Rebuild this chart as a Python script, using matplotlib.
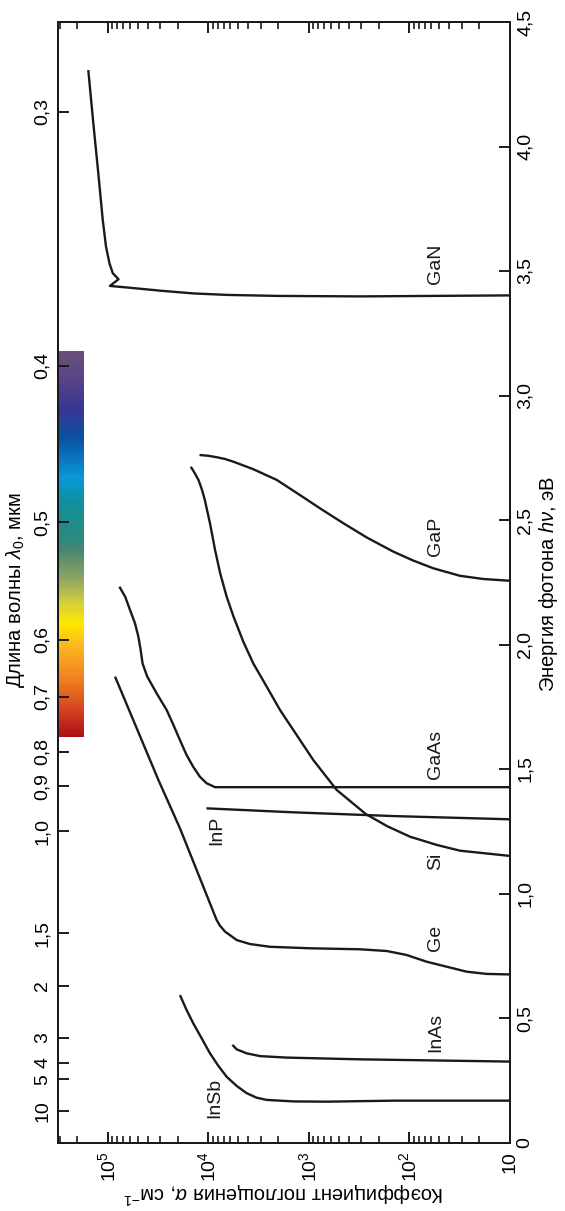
import numpy as np
import matplotlib
matplotlib.use("Agg")
import matplotlib.pyplot as plt
from matplotlib.ticker import FixedLocator, LogLocator, NullFormatter
from matplotlib.colors import LinearSegmentedColormap

plt.rcParams['font.family'] = ['Liberation Sans', 'DejaVu Sans']
plt.rcParams['mathtext.fontset'] = 'custom'
plt.rcParams['mathtext.rm'] = 'Liberation Sans'
plt.rcParams['mathtext.it'] = 'Liberation Sans:italic'

# ---------------- data (photon energy eV, absorption coefficient cm^-1) ----------------
gan_E = [4.307, 4.093, 3.892, 3.705, 3.598, 3.531, 3.491, 3.467, 3.440, 3.434, 3.421, 3.410, 3.404, 3.400, 3.398, 3.402]
gan_a = [1.56e5, 1.39e5, 1.24e5, 1.12e5, 1.04e5, 9.6e4, 8.9e4, 7.8e4, 9.5e4, 6.5e4, 3.0e4, 1.41e4, 6.5e3, 2.08e3, 3.1e2, 10]

gap_E = [2.761, 2.758, 2.752, 2.745, 2.734, 2.704, 2.661, 2.600, 2.547, 2.487, 2.430, 2.373, 2.337, 2.306, 2.276, 2.263, 2.256]
gap_a = [1.22e4, 1.0e4, 8.2e3, 6.8e3, 5.6e3, 3.56e3, 2.08e3, 1.22e3, 773, 452, 265, 144, 91, 57.5, 31.3, 18.3, 10]

si_E = [2.714, 2.690, 2.661, 2.620, 2.580, 2.487, 2.380, 2.286, 2.192, 2.112, 2.011, 1.924, 1.831, 1.737, 1.637, 1.536, 1.416, 1.319, 1.270, 1.228, 1.195, 1.172, 1.151]
si_a = [1.49e4, 1.37e4, 1.25e4, 1.15e4, 1.08e4, 9.6e3, 8.55e3, 7.6e3, 6.55e3, 5.6e3, 4.47e3, 3.56e3, 2.62e3, 1.93e3, 1.32e3, 900, 527, 270, 165, 98, 53, 31.3, 10]

gaas_E = [2.232, 2.192, 2.139, 2.085, 2.031, 1.978, 1.924, 1.871, 1.804, 1.737, 1.677, 1.616, 1.556, 1.509, 1.469, 1.443, 1.427, 1.427]
gaas_a = [7.65e4, 6.7e4, 6.0e4, 5.35e4, 4.95e4, 4.7e4, 4.5e4, 4.04e4, 3.26e4, 2.59e4, 2.22e4, 1.91e4, 1.64e4, 1.41e4, 1.21e4, 1.04e4, 8.55e3, 10]

inp_E = [1.342, 1.326, 1.311, 1.298]
inp_a = [1.04e4, 1.42e3, 144, 10]

ge_E = [1.871, 1.456, 1.262, 0.894, 0.871, 0.847, 0.813, 0.797, 0.786, 0.780, 0.776, 0.769, 0.753, 0.726, 0.706, 0.686, 0.677, 0.675]
ge_a = [8.45e4, 3.13e4, 1.91e4, 8.25e3, 7.65e3, 6.8e3, 5.2e3, 3.84e3, 2.43e3, 970, 309, 167, 106, 67, 42.4, 26.8, 16.9, 10]

inas_E = [0.392, 0.374, 0.358, 0.347, 0.341, 0.334, 0.325]
inas_a = [5.75e3, 5.2e3, 4.14e3, 3.05e3, 1.66e3, 309, 10]

insb_E = [0.592, 0.532, 0.479, 0.418, 0.358, 0.307, 0.264, 0.227, 0.198, 0.180, 0.171, 0.165, 0.164, 0.168, 0.168]
insb_a = [1.91e4, 1.64e4, 1.41e4, 1.16e4, 9.6e3, 7.9e3, 6.55e3, 5.2e3, 4.14e3, 3.3e3, 2.62e3, 1.42e3, 662, 144, 10]

curves = [(gan_E, gan_a), (gap_E, gap_a), (si_E, si_a), (gaas_E, gaas_a),
          (inp_E, inp_a), (ge_E, ge_a), (inas_E, inas_a), (insb_E, insb_a)]

label_names = ["GaN", "GaP", "GaAs", "Si", "Ge", "InAs", "InP", "InSb"]
label_E = [3.527, 2.433, 1.560, 1.128, 0.821, 0.444, 1.255, 0.179]
label_a = [55, 55, 55, 55, 55, 55, 8.2e3, 8.6e3]

energy_ticks = [0, 0.5, 1.0, 1.5, 2.0, 2.5, 3.0, 3.5, 4.0, 4.5]
energy_labels = ["0", "0,5", "1,0", "1,5", "2,0", "2,5", "3,0", "3,5", "4,0", "4,5"]

wl_labels = ["0,3", "0,4", "0,5", "0,6", "0,7", "0,8", "0,9", "1,0", "1,5", "2", "3", "4", "5", "10"]
wl_tick_ev = [4.14, 3.12, 2.49, 2.02, 1.79, 1.57, 1.43, 1.25, 0.84, 0.63, 0.42, 0.32, 0.254, 0.125]

alpha_ticks = [10, 1e2, 1e3, 1e4, 1e5]
alpha_labels = ["10", r"$10^2$", r"$10^3$", r"$10^4$", r"$10^5$"]

spectrum_ev = (1.63, 3.18)
spectrum_pos = [0.0, 0.078, 0.147, 0.233, 0.293, 0.351, 0.405, 0.483, 0.517, 0.604, 0.672, 0.776, 0.853, 0.935, 1.0]
spectrum_col = ["#b01018", "#d84a20", "#f08020", "#fbb520", "#ffe800", "#d0cc40", "#90a860",
                "#4a8570", "#2a8a80", "#10909a", "#0898d8", "#0a50a0", "#3a3592", "#5a4585", "#6a5078"]

# ---------------- figure ----------------
W, H = 565, 1211
fig = plt.figure(figsize=(W / 100, H / 100), dpi=100)
ax = fig.add_axes([58 / W, 1 - 1142.5 / H, (509.7 - 58) / W, (1142.5 - 22) / H])
ax.set_xscale('log')
ax.set_xlim(10 ** 5.4945, 10)
ax.set_ylim(0, 4.5)

# visible spectrum band
cmap = LinearSegmentedColormap.from_list("vis", list(zip(spectrum_pos, spectrum_col)))
N = 300
e_lo, e_hi = spectrum_ev
dE = (e_hi - e_lo) / N
for i in range(N):
    ax.axhspan(e_lo + i * dE, e_lo + (i + 1.05) * dE, xmin=0, xmax=26 / 451.7,
               color=cmap((i + 0.5) / N), lw=0, zorder=0)

for E, a in curves:
    ax.plot(a, E, color='#1a1a1a', lw=1.7, solid_capstyle='butt', solid_joinstyle='round', zorder=3)

for name, e, a in zip(label_names, label_E, label_a):
    ax.text(a, e, name, rotation=90, ha='center', va='center', fontsize=14, color='#1a1a1a')

for s in ax.spines.values():
    s.set_linewidth(1.4)
    s.set_color('#1a1a1a')

# alpha axis (bottom + top)
ax.xaxis.set_major_locator(FixedLocator(alpha_ticks))
ax.set_xticklabels(alpha_labels, rotation=90, fontsize=14)
ax.xaxis.set_minor_locator(LogLocator(base=10, subs=np.arange(2, 10), numticks=30))
ax.xaxis.set_minor_formatter(NullFormatter())
ax.tick_params(axis='x', which='major', direction='in', length=8, width=1.4, top=True, bottom=True, pad=6, color='#1a1a1a')
ax.tick_params(axis='x', which='minor', direction='in', length=4.8, width=1.2, top=True, bottom=True, color='#1a1a1a')

# wavelength axis (left)
ax.set_yticks(wl_tick_ev)
ax.set_yticklabels(wl_labels, rotation=90, va='center', fontsize=14)
ax.tick_params(axis='y', which='major', direction='in', length=8, width=1.4, left=True, right=False, pad=5, color='#1a1a1a')
ax.tick_params(axis='y', which='minor', left=False, right=False)

# energy axis (right)
axr = ax.twinx()
axr.set_ylim(0, 4.5)
axr.set_yticks(energy_ticks)
axr.set_yticklabels(energy_labels, rotation=90, va='center', fontsize=14)
axr.tick_params(axis='y', direction='in', length=8, width=1.4, pad=5, color='#1a1a1a')
for s in axr.spines.values():
    s.set_linewidth(1.4)
    s.set_color('#1a1a1a')

# axis titles
fig.text(16 / W, 1 - 590 / H, r"Длина волны $\mathit{\lambda}_0$, мкм", rotation=90,
         ha='center', va='center', fontsize=14.5)
fig.text(549 / W, 1 - 584 / H, r"Энергия фотона $\mathit{h\nu}$, эВ", rotation=90,
         ha='center', va='center', fontsize=14.5)
fig.text(284 / W, 1 - 1193 / H, r"Коэффициент поглощения $\mathit{\alpha}$, см$^{-1}$", rotation=180,
         ha='center', va='center', fontsize=14.5)

fig.savefig("out.png", dpi=100)
